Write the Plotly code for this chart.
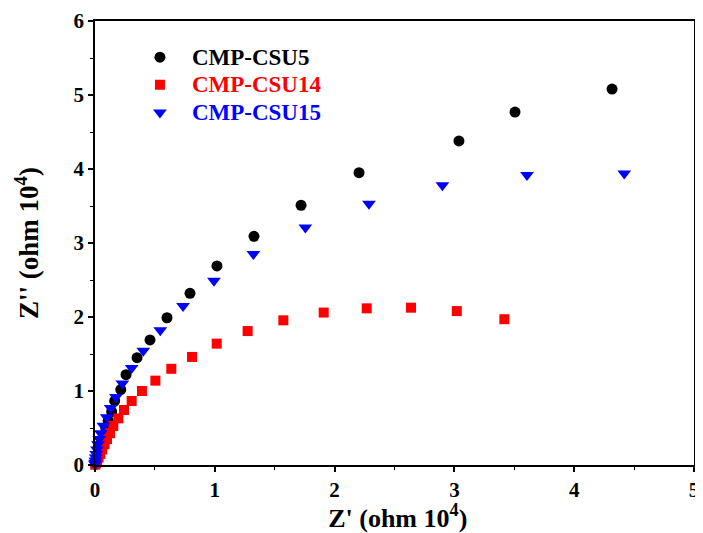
import plotly.graph_objects as go

# CMP-CSU5 (black circles)
csu5_x = [0.003, 0.01, 0.02, 0.035, 0.05, 0.07, 0.09, 0.11, 0.139, 0.164, 0.215, 0.259, 0.351, 0.459,
          0.601, 0.793, 1.018, 1.327, 1.72, 2.204, 3.038, 3.506, 4.316]
csu5_y = [0.01, 0.05, 0.12, 0.2, 0.3, 0.4, 0.5, 0.6, 0.72, 0.868, 1.02, 1.22, 1.45, 1.69,
          1.99, 2.32, 2.69, 3.09, 3.51, 3.95, 4.38, 4.77, 5.08]

# CMP-CSU14 (red squares)
csu14_x = [0.002, 0.008, 0.018, 0.03, 0.045, 0.06, 0.08, 0.1, 0.125, 0.153, 0.195, 0.242, 0.306, 0.392,
           0.504, 0.637, 0.81, 1.016, 1.274, 1.572, 1.909, 2.268, 2.638, 3.02, 3.417]
csu14_y = [0.005, 0.025, 0.06, 0.1, 0.15, 0.21, 0.28, 0.35, 0.43, 0.527, 0.63, 0.743, 0.865, 1.0,
           1.14, 1.30, 1.46, 1.64, 1.81, 1.955, 2.06, 2.117, 2.126, 2.08, 1.97]

# CMP-CSU15 (blue down-triangles)
csu15_x = [0.0, 0.001, 0.003, 0.006, 0.01, 0.017, 0.025, 0.035, 0.048, 0.07, 0.098, 0.131, 0.175, 0.228,
           0.306, 0.403, 0.545, 0.735, 0.993, 1.322, 1.756, 2.287, 2.9, 3.606, 4.418]
csu15_y = [0.01, 0.03, 0.06, 0.1, 0.15, 0.21, 0.28, 0.35, 0.43, 0.53, 0.645, 0.77, 0.92, 1.10,
           1.31, 1.545, 1.82, 2.15, 2.49, 2.85, 3.21, 3.53, 3.78, 3.92, 3.94]

x_ticks = [0, 1, 2, 3, 4, 5]
y_ticks = [0, 1, 2, 3, 4, 5, 6]
series_names = ["CMP-CSU5", "CMP-CSU14", "CMP-CSU15"]
series_colors = ["black", "red", "blue"]

serif = "Liberation Serif"


def legend_label(text, color):
    return "<b><span style='font-size:23px;color:%s'>%s</span></b>" % (color, text)


fig = go.Figure()
fig.add_trace(go.Scatter(x=csu5_x, y=csu5_y, mode="markers", cliponaxis=False,
                         name=legend_label(series_names[0], series_colors[0]),
                         marker=dict(symbol="circle", size=11, color=series_colors[0])))
fig.add_trace(go.Scatter(x=csu14_x, y=csu14_y, mode="markers", cliponaxis=False,
                         name=legend_label(series_names[1], series_colors[1]),
                         marker=dict(symbol="square", size=10, color=series_colors[1])))
fig.add_trace(go.Scatter(x=csu15_x, y=csu15_y, mode="markers", cliponaxis=False,
                         name=legend_label(series_names[2], series_colors[2]),
                         marker=dict(symbol="triangle-down", size=12, color=series_colors[2])))

axis_common = dict(showgrid=False, zeroline=False, showline=True, linecolor="black", linewidth=1.8,
                   mirror=True, ticks="outside", ticklen=5, tickwidth=1.5, tickcolor="black",
                   automargin=False,
                   tickfont=dict(family=serif, size=21, color="black"),
                   minor=dict(ticks="outside", ticklen=3, tickwidth=1.2, tickcolor="black"))

fig.update_xaxes(range=[0, 5], tickvals=x_ticks, ticktext=["<b>%d</b>" % v for v in x_ticks],
                 minor_dtick=0.5,
                 title=dict(text="<b>&nbsp;Z' (ohm 10<sup>4</sup>)</b>", standoff=3,
                            font=dict(family=serif, size=26, color="black")),
                 **axis_common)
fig.update_yaxes(range=[0, 6], tickvals=y_ticks, ticktext=["<b>%d</b>" % v for v in y_ticks],
                 minor_dtick=0.5,
                 title=dict(text="<b>Z'' (ohm 10<sup>4</sup>)</b>", standoff=27,
                            font=dict(family=serif, size=27, color="black")),
                 **axis_common)

fig.update_layout(
    width=695, height=525,
    margin=dict(l=87, r=9, t=13, b=68),
    plot_bgcolor="white", paper_bgcolor="white",
    legend=dict(x=0.055, y=0.961, xanchor="left", yanchor="top", bgcolor="rgba(0,0,0,0)",
                font=dict(family=serif, size=19, color="black"), itemwidth=54, tracegroupgap=0),
)

fig.write_html("out.html")
